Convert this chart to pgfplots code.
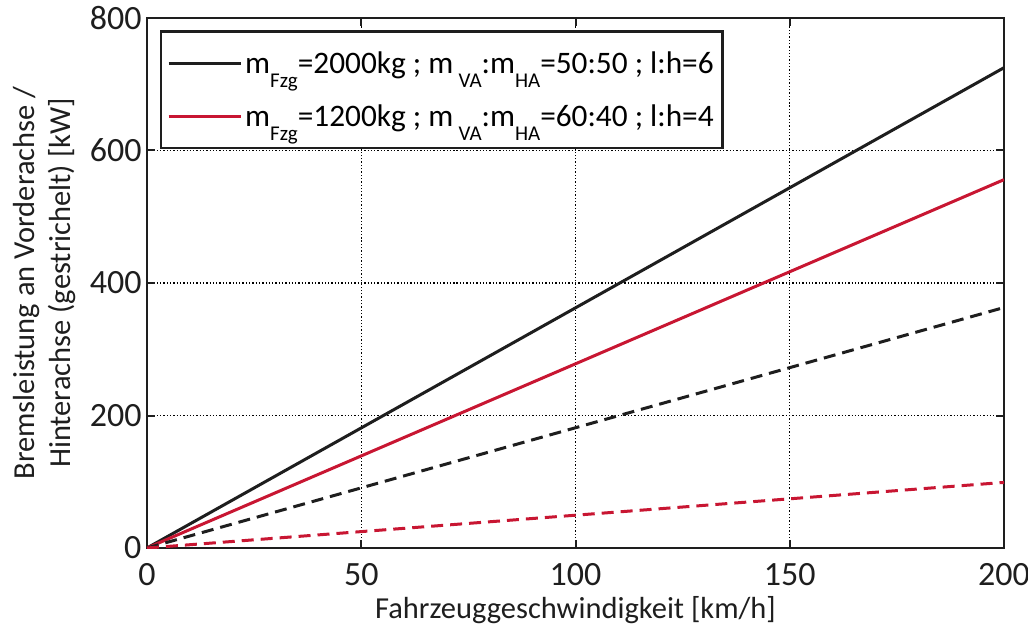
\documentclass[border=0pt]{standalone}
\usepackage{pgfplots}
\pgfplotsset{compat=1.18}
\usepackage{fontspec}
\setmainfont{Carlito}
\definecolor{bremsrot}{RGB}{200,22,50}
\definecolor{fast}{RGB}{30,30,30}
\newcommand{\sub}[1]{\raisebox{-14bp}{\fontsize{21bp}{24bp}\selectfont #1}}

\begin{document}
\begin{tikzpicture}
\useasboundingbox (-147bp,-79bp) rectangle (881bp,548bp);
\begin{axis}[
  at={(0,0)}, anchor=south west,
  scale only axis, width=857bp, height=530bp,
  xmin=0, xmax=200, ymin=0, ymax=800,
  xtick={0,50,...,200}, ytick={0,200,...,800},
  tick align=inside, major tick length=8bp,
  xtick pos=both, ytick pos=both,
  axis line style={line width=2.6bp, fast},
  every tick/.style={line width=2bp, fast},
  grid=major, grid style={line width=1.3bp, dotted, black},
  /pgf/number format/assume math mode=true,
  tick label style={font=\fontsize{34bp}{40bp}\selectfont, text=fast},
  xticklabel style={yshift=-12bp},
  yticklabel style={xshift=-2bp},
  label style={font=\fontsize{30.5bp}{36bp}\selectfont, text=fast},
  xlabel={Fahrzeuggeschwindigkeit [km/h]},
  ylabel={Bremsleistung an Vorderachse /\\Hinterachse (gestrichelt) [kW]},
  ylabel style={align=center, yshift=7bp},
  xlabel style={yshift=-4bp},
  legend style={at={(0.015,0.977)}, anchor=north west, draw=fast,
    line width=2.6bp, fill=white, inner xsep=6bp, inner ysep=17bp,
    font=\fontsize{31.3bp}{36bp}\selectfont, row sep=24bp,
    nodes={inner sep=3bp}},
  legend cell align=left,
  legend image post style={line width=3bp},
  legend image code/.code={\draw[#1] (0bp,0bp) -- (72bp,0bp);},
]
\addplot[fast, line width=3bp] coordinates {(0,0) (200,725)};
\addplot[bremsrot, line width=3bp] coordinates {(0,0) (200,556)};
\addplot[fast, line width=3bp, dash pattern=on 12bp off 7bp, forget plot] coordinates {(0,0) (200,363)};
\addplot[bremsrot, line width=3bp, dash pattern=on 12bp off 7bp, forget plot] coordinates {(0,0) (200,99)};
\legend{m\sub{Fzg}=2000kg ; m\,\sub{VA}:m\sub{HA}=50:50 ; l:h=6,
        m\sub{Fzg}=1200kg ; m\,\sub{VA}:m\sub{HA}=60:40 ; l:h=4}
\end{axis}
\end{tikzpicture}
\end{document}
